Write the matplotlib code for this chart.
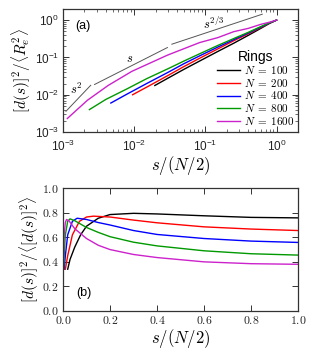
import matplotlib
matplotlib.use("Agg")
import matplotlib.pyplot as plt
from matplotlib.ticker import FuncFormatter, MultipleLocator, LogLocator, NullFormatter

plt.rcParams['mathtext.fontset'] = 'cm'
plt.rcParams['font.family'] = ['Liberation Sans', 'DejaVu Sans']

labels = ["$N\\;=\\;100$", "$N\\;=\\;200$", "$N\\;=\\;400$", "$N\\;=\\;800$", "$N\\;=\\;1600$"]
colors = ["#000000", "#ff0000", "#0000ff", "#009900", "#cc22cc"]

# Panel (a): d(s)^2 / <R_e^2> vs s/(N/2)
a_x = [
    [0.0195, 0.03, 0.05, 0.083, 0.15, 0.25, 0.4, 0.6, 0.8, 1.0],
    [0.0095, 0.015, 0.03, 0.05, 0.083, 0.15, 0.25, 0.4, 0.6, 0.8, 1.0],
    [0.0047, 0.008, 0.015, 0.03, 0.05, 0.083, 0.15, 0.25, 0.4, 0.6, 0.8, 1.0],
    [0.00235, 0.004, 0.008, 0.015, 0.03, 0.05, 0.083, 0.15, 0.25, 0.4, 0.6, 0.8, 1.0],
    [0.00115, 0.0022, 0.0043, 0.0093, 0.0293, 0.083, 0.15, 0.25, 0.4, 0.6, 0.8, 1.0],
]
a_y = [
    [0.0177, 0.028, 0.048, 0.08, 0.145, 0.24, 0.39, 0.6, 0.82, 1.0],
    [0.0100, 0.016, 0.033, 0.057, 0.095, 0.17, 0.28, 0.43, 0.63, 0.83, 1.0],
    [0.0060, 0.0105, 0.02, 0.04, 0.068, 0.11, 0.19, 0.3, 0.45, 0.65, 0.84, 1.0],
    [0.0040, 0.0075, 0.0145, 0.027, 0.05, 0.08, 0.125, 0.21, 0.32, 0.47, 0.67, 0.85, 1.0],
    [0.00231, 0.0071, 0.0177, 0.0425, 0.115, 0.25, 0.34, 0.49, 0.6, 0.77, 0.88, 1.0],
]

# Guide lines (power laws) in panel (a)
g_s2_x = [0.0011, 0.00245]
g_s2_y = [0.0036, 0.0179]
g_s1_x = [0.00277, 0.0293]
g_s1_y = [0.0188, 0.184]
g_s23_x = [0.0338, 0.63]
g_s23_y = [0.226, 1.44]

# Panel (b): d(s)^2 / <d(s)^2> vs s/(N/2)
b_x = [
    [0.02, 0.03, 0.05, 0.075, 0.1, 0.15, 0.2, 0.3, 0.4, 0.6, 0.8, 1.0],
    [0.01, 0.02, 0.04, 0.07, 0.1, 0.13, 0.2, 0.3, 0.4, 0.6, 0.8, 1.0],
    [0.005, 0.01, 0.02, 0.04, 0.06, 0.1, 0.15, 0.2, 0.3, 0.4, 0.6, 0.8, 1.0],
    [0.0025, 0.005, 0.01, 0.02, 0.03, 0.05, 0.1, 0.15, 0.2, 0.3, 0.4, 0.6, 0.8, 1.0],
    [0.00125, 0.0025, 0.005, 0.01, 0.015, 0.025, 0.05, 0.1, 0.15, 0.2, 0.3, 0.4, 0.6, 0.8, 1.0],
]
b_y = [
    [0.34, 0.42, 0.52, 0.62, 0.69, 0.755, 0.785, 0.795, 0.79, 0.775, 0.762, 0.758],
    [0.34, 0.45, 0.62, 0.73, 0.765, 0.772, 0.765, 0.74, 0.718, 0.685, 0.667, 0.655],
    [0.34, 0.45, 0.62, 0.73, 0.755, 0.745, 0.72, 0.70, 0.655, 0.623, 0.59, 0.569, 0.558],
    [0.34, 0.45, 0.62, 0.73, 0.75, 0.735, 0.68, 0.64, 0.605, 0.56, 0.53, 0.49, 0.466, 0.455],
    [0.34, 0.45, 0.62, 0.72, 0.745, 0.735, 0.67, 0.59, 0.535, 0.50, 0.46, 0.435, 0.40, 0.385, 0.38],
]

fig = plt.figure(figsize=(3.15, 3.55), dpi=100)
ax1 = fig.add_axes([0.2, 0.628, 0.746, 0.347])
ax2 = fig.add_axes([0.2, 0.124, 0.746, 0.346])

spine_col = "#333333"
for ax in (ax1, ax2):
    for sp in ax.spines.values():
        sp.set_color(spine_col)
        sp.set_linewidth(0.9)
    ax.tick_params(which='both', direction='in', top=True, right=True,
                   colors=spine_col, labelcolor='#222222', labelsize=8.5)
    ax.tick_params(which='major', length=4, width=0.7, pad=3)
    ax.tick_params(which='minor', length=2, width=0.5)
ax1.tick_params(axis='x', which='major', pad=5)

lw = 1.0
for xs, ys, c, lab in zip(a_x, a_y, colors, labels):
    ax1.plot(xs, ys, color=c, lw=lw, label=lab)
for gx, gy in ((g_s2_x, g_s2_y), (g_s1_x, g_s1_y), (g_s23_x, g_s23_y)):
    ax1.plot(gx, gy, color='#555555', lw=0.7)
ax1.text(0.00155, 0.0136, "$s^2$", fontsize=9, ha='center', va='center')
ax1.text(0.0085, 0.09, "$s$", fontsize=9, ha='center', va='center')
ax1.text(0.129, 0.816, "$s^{2/3}$", fontsize=9, ha='center', va='center')
ax1.set_xscale('log')
ax1.set_yscale('log')
ax1.set_xlim(1e-3, 2)
ax1.set_ylim(1e-3, 2)
ax1.xaxis.set_major_locator(LogLocator(base=10, numticks=10))
ax1.yaxis.set_major_locator(LogLocator(base=10, numticks=10))
ax1.xaxis.set_minor_locator(LogLocator(base=10, subs=range(2, 10), numticks=20))
ax1.yaxis.set_minor_locator(LogLocator(base=10, subs=range(2, 10), numticks=20))
ax1.xaxis.set_minor_formatter(NullFormatter())
ax1.yaxis.set_minor_formatter(NullFormatter())
ax1.set_xlabel("$s/(N/2)$", fontsize=12, labelpad=0)
ax1.set_ylabel(r"$[d(s)]^2/\langle R_e^2\rangle$", fontsize=11, labelpad=1)
ax1.text(0.085, 0.86, "(a)", transform=ax1.transAxes, fontsize=9, ha='center', va='center')
leg = ax1.legend(title="Rings", loc='lower right', frameon=False, fontsize=8,
                 title_fontsize=10, handlelength=2.1, handletextpad=0.35,
                 labelspacing=0.05, borderaxespad=0.0, borderpad=0.0,
                 bbox_to_anchor=(0.985, 0.045))

for xs, ys, c in zip(b_x, b_y, colors):
    ax2.plot(xs, ys, color=c, lw=lw)
ax2.set_xlim(0, 1)
ax2.set_ylim(0, 1)
ax2.xaxis.set_major_locator(MultipleLocator(0.2))
ax2.yaxis.set_major_locator(MultipleLocator(0.2))
fmt = FuncFormatter(lambda v, p: "$%.1f$" % v)
ax2.xaxis.set_major_formatter(fmt)
ax2.yaxis.set_major_formatter(fmt)
ax2.set_xlabel("$s/(N/2)$", fontsize=12, labelpad=0)
ax2.set_ylabel(r"$[d(s)]^2/\langle [d(s)]^2\rangle$", fontsize=11, labelpad=1)
ax2.text(0.09, 0.146, "(b)", transform=ax2.transAxes, fontsize=9, ha='center', va='center')

fig.savefig("out.png", dpi=100)
